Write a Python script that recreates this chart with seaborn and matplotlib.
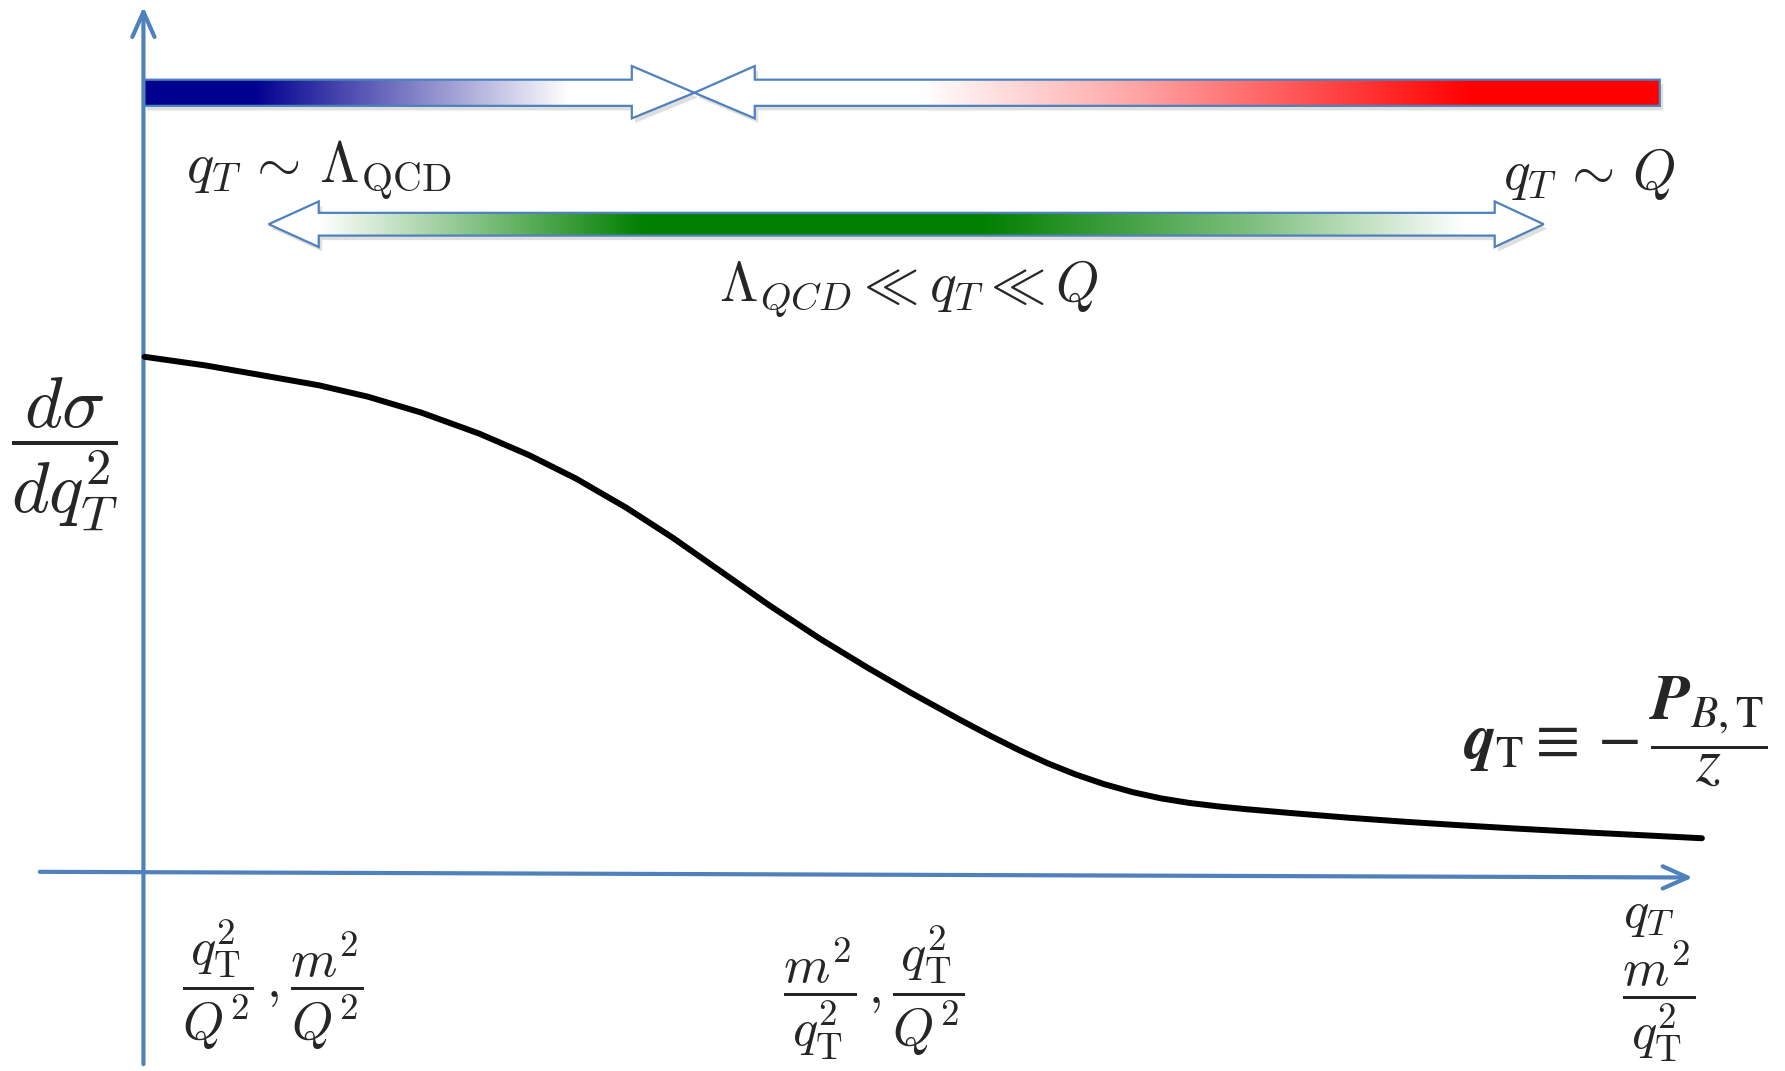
import numpy as np
import matplotlib
matplotlib.use("Agg")
import matplotlib.pyplot as plt
from matplotlib.patches import Polygon
import seaborn as sns

# sketch of the qT spectrum, canvas units = pixels of a 1568x941 drawing (y downward)
curve_x = [127, 180, 229, 280, 323, 370, 421, 465, 506, 550, 591, 635, 676,
           720, 762, 800, 844, 870, 895, 920, 945, 970, 995, 1020, 1045, 1070,
           1095, 1137, 1185, 1234, 1283, 1332, 1400, 1450, 1495]
curve_y = [313.5, 321, 329.5, 338.5, 348.5, 362.5, 381, 400, 420.5, 446, 472.5,
           503.3, 532, 561, 586.6, 608.6, 632.8, 646.5, 659, 670.5, 680.5, 689,
           696, 701.5, 705.5, 708.5, 711, 714.6, 718.5, 722, 725.1, 728, 731.7,
           734.2, 736.5]

# region arrows: outline points
blue_arrow = [(126, 70), (555, 70), (555, 58), (610, 81.5), (555, 104), (555, 93), (126, 93)]
red_arrow = [(1458, 70), (663, 70), (663, 58), (610, 81.5), (663, 104), (663, 93), (1458, 93)]
green_arrow = [(236, 197), (280, 177), (280, 187), (1313, 187), (1313, 177), (1356, 197),
               (1313, 217), (1313, 207), (280, 207), (280, 217)]

# gradient stops (x position, colour)
blue_stops = [(126, "#00008F"), (223, "#00008F"), (501, "#FFFFFF"), (610, "#FFFFFF")]
red_stops = [(610, "#FFFFFF"), (809, "#FFFFFF"), (1000, "#FFA4A4"), (1293, "#FF0000"), (1458, "#FF0000")]
green_stops = [(236, "#FFFFFF"), (280, "#FFFFFF"), (564, "#008000"), (862, "#008000"),
               (1100, "#7FBF7F"), (1287, "#FFFFFF"), (1356, "#FFFFFF")]

labels = [r"$q_T\,\sim\,\Lambda_{\mathrm{QCD}}$", r"$q_T\,\sim\,Q$",
          r"$\Lambda_{QCD}\ll q_T\ll Q$", r"$\dfrac{d\sigma}{dq_T^2}$",
          r"$\mathbfit{q}_{\mathrm{T}}\equiv-\dfrac{\mathbfit{P}_{B,\mathrm{T}}}{z}$",
          r"$q_T$", r"$\dfrac{m^2}{q_{\mathrm{T}}^2}$",
          r"$\dfrac{q_{\mathrm{T}}^2}{Q^2}\,,\dfrac{m^2}{Q^2}$",
          r"$\dfrac{m^2}{q_{\mathrm{T}}^2}\,,\dfrac{q_{\mathrm{T}}^2}{Q^2}$"]
formula_plain = r"$\mathbf{q}_{\mathrm{T}}\equiv-\dfrac{\mathbf{P}_{B,\mathrm{T}}}{z}$"

axis_col = "#4F81BD"

sns.set_style("white")
plt.rcParams["mathtext.fontset"] = "cm"

fig = plt.figure(figsize=(17.85, 10.71), dpi=100)
ax = fig.add_axes([0, 0, 1, 1])
ax.set_axis_off()


def grad_arrow(pts, stops):
    xs = [p[0] for p in pts]
    ys = [p[1] for p in pts]
    # soft shadow
    sh = Polygon([(x + 3, y + 4) for x, y in pts], closed=True, facecolor="#808080",
                 edgecolor="none", alpha=0.25, zorder=1)
    ax.add_patch(sh)
    poly = Polygon(pts, closed=True, facecolor="white", edgecolor="none", zorder=2)
    ax.add_patch(poly)
    gx = np.linspace(min(xs), max(xs), 800)
    sx = [s[0] for s in stops]
    cols = np.array([matplotlib.colors.to_rgb(s[1]) for s in stops])
    img = np.stack([np.interp(gx, sx, cols[:, k]) for k in range(3)], axis=-1)[None, :, :]
    im = ax.imshow(img, extent=(min(xs), max(xs), max(ys), min(ys)), aspect="auto",
                   interpolation="bilinear", zorder=3)
    im.set_clip_path(poly)
    ax.add_patch(Polygon(pts, closed=True, facecolor="none", edgecolor=axis_col,
                         linewidth=1.6, joinstyle="miter", zorder=4))


grad_arrow(blue_arrow, blue_stops)
grad_arrow(red_arrow, red_stops)
grad_arrow(green_arrow, green_stops)

# axes arrows
ax.annotate("", xy=(1487, 771), xytext=(35, 766),
            arrowprops=dict(arrowstyle="->,head_length=0.9,head_width=0.4", color=axis_col,
                            lw=3.0, mutation_scale=20, shrinkA=0, shrinkB=0), zorder=5)
ax.annotate("", xy=(126, 6), xytext=(126, 935),
            arrowprops=dict(arrowstyle="->,head_length=0.9,head_width=0.4", color=axis_col,
                            lw=3.0, mutation_scale=20, shrinkA=0, shrinkB=0), zorder=5)

# cross section curve
sns.lineplot(x=curve_x, y=curve_y, color="black", linewidth=4.3, ax=ax, zorder=6,
             sort=False, estimator=None)

ax.text(163, 160, labels[0], fontsize=41, ha="left", va="baseline")
ax.text(1472, 166, labels[1], fontsize=40, ha="right", va="baseline")
ax.text(632, 264, labels[2], fontsize=40, ha="left", va="baseline")
ax.text(57, 400, labels[3], fontsize=52, ha="center", va="center")
ax.text(1448, 802, labels[5], fontsize=38, ha="center", va="center")
ax.text(1457, 880, labels[6], fontsize=38, ha="center", va="center")
ax.text(160, 865, labels[7], fontsize=38, ha="left", va="center")
ax.text(688, 872, labels[8], fontsize=38, ha="left", va="center")

ax.set_xlim(0, 1568)
ax.set_ylim(941, 0)

# bold italic q and P need the stix set; fall back to upright bold if unavailable
ft = ax.text(1553, 642, labels[4], fontsize=46, ha="right", va="center",
             math_fontfamily="stix")
try:
    fig.canvas.draw()
except Exception:
    ft.set_text(formula_plain)
    ft.set_math_fontfamily("cm")

fig.savefig("out.png", dpi=100)
